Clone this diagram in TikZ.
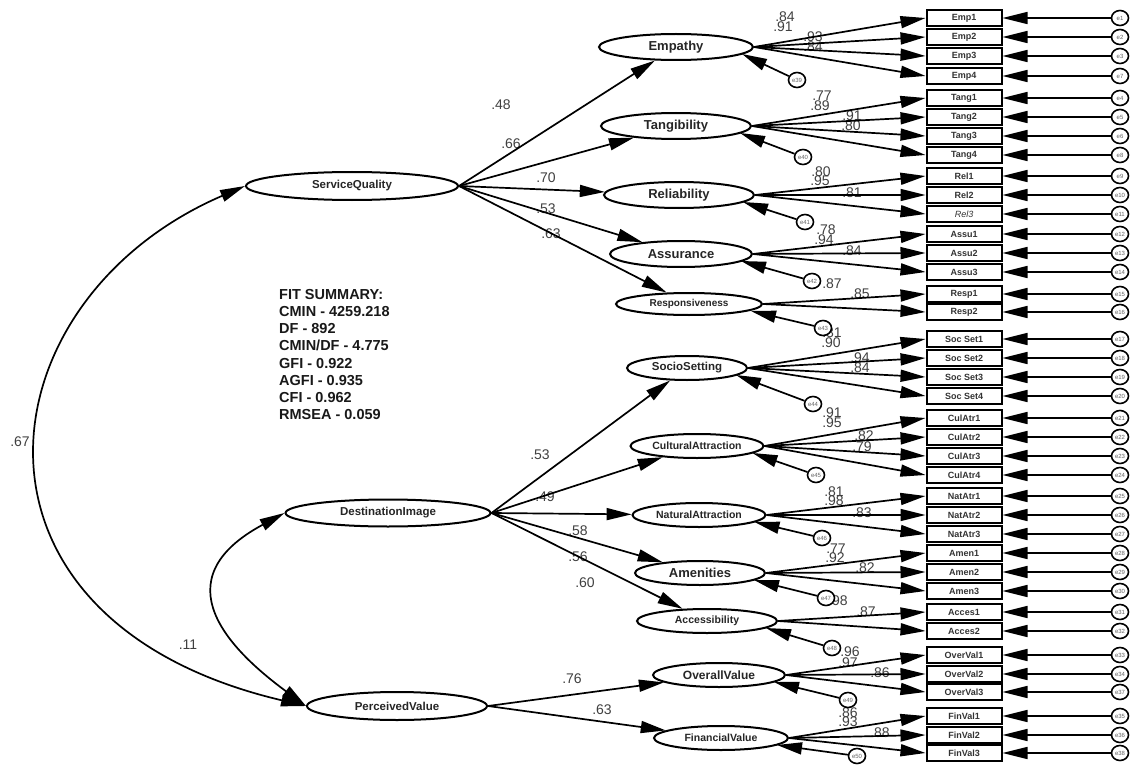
\documentclass[tikz,border=0pt]{standalone}
\usepackage{fontspec}
\setmainfont{Liberation Sans}
\usetikzlibrary{shapes.geometric,arrows.meta,calc}
\newcommand\zw[1]{\makebox[0pt]{#1}}
\newcommand\fs[1]{\fontsize{#1}{#1}\selectfont}
\begin{document}
\begin{tikzpicture}[x=1pt,y=-1pt,
 lat/.style={ellipse,draw,line width=2pt,inner sep=0pt,font=\bfseries\fs{13},text=black!85},
 ind/.style={rectangle,draw,line width=2pt,minimum width=75pt,minimum height=16pt,inner sep=0pt,font=\bfseries\fs{9},text=black!80},
 err/.style={ellipse,draw,line width=1.6pt,minimum width=17pt,minimum height=15pt,inner sep=0pt,fill=white,font=\fs{6},text=black!60},
 arr/.style={-{Triangle[length=25pt,width=12pt]},line width=1.7pt},
 biarr/.style={{Triangle[length=25pt,width=12pt]}-{Triangle[length=25pt,width=12pt]},line width=1.7pt},
 lab/.style={font=\fs{14},text=black!75,inner sep=0pt},
]
\useasboundingbox[fill=white] (0,0) rectangle (1133,765);

% ---------- coefficient labels ----------
\foreach \x/\y/\t in {
501/105/.48, 511/144/.66, 546/178/.70, 546/209/.53, 551/234/.63,
540/455/.53, 545/497/.49, 578/531/.58, 578/557/.56, 585/583/.60,
572/679/.76, 602/710/.63, 20/442/.67, 188/645/.11,
785/17/.84, 783/27/.91, 813/37/.93, 813/47/.84,
822/96/.77, 820/106/.89, 852/116/.91, 851/126/.80,
821/172/.80, 820/181/.95, 852/193/.81,
826/230/.78, 824/240/.94, 852/251/.84,
832/284/.87, 860/294/.85,
832/333/.81, 831/343/.90, 860/358/.94, 860/368/.84,
832/413/.91, 832/423/.95, 864/436/.82, 862/447/.79,
834/492/.81, 834/501/.98, 862/513/.83,
836/549/.77, 835/558/.92, 865/568/.82,
838/601/.98, 866/612/.87,
850/652/.96, 848/663/.97, 880/673/.86,
848/713/.86, 848/722/.93, 880/733/.88}
  \node[lab] (l-\x-\y) at (\x,\y) {\t};

% ---------- fit summary ----------
\node[anchor=north west,align=left,inner sep=0pt,font=\bfseries\fontsize{14.5}{17.2}\selectfont,text=black!90]
  (fit) at (279,289) {FIT SUMMARY:\\CMIN - 4259.218\\DF - 892\\CMIN/DF - 4.775\\GFI - 0.922\\AGFI - 0.935\\CFI - 0.962\\RMSEA - 0.059};

% ---------- second order factors ----------
\node[lat,minimum width=212pt,minimum height=28pt,font=\bfseries\fs{11.5}] (SQ) at (352,186) {\zw{ServiceQuality}};
\node[lat,minimum width=205pt,minimum height=27pt,font=\bfseries\fs{11.5}] (DI) at (388,513) {\zw{DestinationImage}};
\node[lat,minimum width=180pt,minimum height=28pt,font=\bfseries\fs{11.5}] (PV) at (397,706) {\zw{PerceivedValue}};

% ---------- first order factors ----------
\node[lat,minimum width=154pt,minimum height=26pt] (Emp) at (676,47) {\zw{Empathy}};
\node[lat,minimum width=150pt,minimum height=26pt] (Tan) at (676,126) {\zw{Tangibility}};
\node[lat,minimum width=150pt,minimum height=26pt] (Rel) at (679,195) {\zw{Reliability}};
\node[lat,minimum width=142pt,minimum height=26pt] (Ass) at (681,254) {\zw{Assurance}};
\node[lat,minimum width=146pt,minimum height=22pt,font=\bfseries\fs{10}] (Res) at (689,304) {\zw{Responsiveness}};
\node[lat,minimum width=120pt,minimum height=24pt,font=\bfseries\fs{11.5}] (Soc) at (687,368) {\zw{SocioSetting}};
\node[lat,minimum width=133pt,minimum height=24pt,font=\bfseries\fs{10.5}] (Cul) at (697,446) {\zw{CulturalAttraction}};
\node[lat,minimum width=133pt,minimum height=24pt,font=\bfseries\fs{10.5}] (Nat) at (699,515) {\zw{NaturalAttraction}};
\node[lat,minimum width=130pt,minimum height=24pt] (Ame) at (700,573) {\zw{Amenities}};
\node[lat,minimum width=140pt,minimum height=24pt,font=\bfseries\fs{10.5}] (Acc) at (707,621) {\zw{Accessibility}};
\node[lat,minimum width=132pt,minimum height=24pt,font=\bfseries\fs{12}] (Ove) at (719,675) {\zw{OverallValue}};
\node[lat,minimum width=134pt,minimum height=24pt,font=\bfseries\fs{10.5}] (Fin) at (721,738) {\zw{FinancialValue}};

% ---------- indicators and their errors ----------
\foreach \n/\y/\e/\t in {
Emp1/18/e1/Emp1, Emp2/37/e2/Emp2, Emp3/56/e3/Emp3, Emp4/76/e7/Emp4,
Tang1/98/e4/Tang1, Tang2/117/e5/Tang2, Tang3/136/e6/Tang3, Tang4/155/e8/Tang4,
Rel1/176/e9/Rel1, Rel2/195/e10/Rel2, Rel3/214/e11/{\mdseries\itshape Rel3},
Assu1/234/e12/Assu1, Assu2/253/e13/Assu2, Assu3/272/e14/Assu3,
Resp1/294/e15/Resp1, Resp2/312/e16/Resp2,
SocSet1/339/e17/Soc Set1, SocSet2/358/e18/Soc Set2, SocSet3/377/e19/Soc Set3, SocSet4/396/e20/Soc Set4,
CulAtr1/418/e21/CulAtr1, CulAtr2/437/e22/CulAtr2, CulAtr3/456/e23/CulAtr3, CulAtr4/475/e24/CulAtr4,
NatAtr1/496/e25/NatAtr1, NatAtr2/515/e26/NatAtr2, NatAtr3/534/e27/NatAtr3,
Amen1/553/e28/Amen1, Amen2/572/e29/Amen2, Amen3/591/e30/Amen3,
Acces1/612/e31/Acces1, Acces2/631/e32/Acces2,
OverVal1/655/e33/OverVal1, OverVal2/674/e34/OverVal2, OverVal3/692/e37/OverVal3,
FinVal1/716/e35/FinVal1, FinVal2/735/e36/FinVal2, FinVal3/753/e38/FinVal3}
{
  \node[ind] (\n) at (964,\y) {\t};
  \node[err] (\e) at (1120,\y) {\e};
  \draw[arr] (\e) -- (\n);
}

% ---------- loadings ----------
\foreach \f/\b in {
Emp/Emp1, Emp/Emp2, Emp/Emp3, Emp/Emp4,
Tan/Tang1, Tan/Tang2, Tan/Tang3, Tan/Tang4,
Rel/Rel1, Rel/Rel2, Rel/Rel3,
Ass/Assu1, Ass/Assu2, Ass/Assu3,
Res/Resp1, Res/Resp2,
Soc/SocSet1, Soc/SocSet2, Soc/SocSet3, Soc/SocSet4,
Cul/CulAtr1, Cul/CulAtr2, Cul/CulAtr3, Cul/CulAtr4,
Nat/NatAtr1, Nat/NatAtr2, Nat/NatAtr3,
Ame/Amen1, Ame/Amen2, Ame/Amen3,
Acc/Acces1, Acc/Acces2,
Ove/OverVal1, Ove/OverVal2, Ove/OverVal3,
Fin/FinVal1, Fin/FinVal2, Fin/FinVal3}
  \draw[arr] (\f.east) -- (\b.west);

% ---------- factor disturbances ----------
\foreach \e/\x/\y/\f in {
e39/797/80/Emp, e40/803/157/Tan, e41/805/222/Rel, e42/812/281/Ass,
e43/823/328/Res, e44/813/404/Soc, e45/816/475/Cul, e46/822/538/Nat,
e47/826/598/Ame, e48/832/648/Acc, e49/848/700/Ove, e50/857/756/Fin}
{
  \node[err] (\e) at (\x,\y) {\e};
  \coordinate (\e-t) at ($(\f.east)+(-12,7)$);
  \draw[arr] (\e) -- (\e-t);
}

% ---------- structural paths ----------
\foreach \t in {Emp,Tan,Rel,Ass,Res} \draw[arr] (SQ.east) -- (\t);
\foreach \t in {Soc,Cul,Nat,Ame,Acc} \draw[arr] (DI.east) -- (\t);
\foreach \t in {Ove,Fin} \draw[arr] (PV.east) -- (\t);

% ---------- covariances ----------
\draw[biarr] (SQ.west) .. controls (-20,300) and (-60,620) .. (PV.west);
\draw[biarr] (DI.west) .. controls (160,580) and (230,650) .. (PV.west);
\end{tikzpicture}
\end{document}
